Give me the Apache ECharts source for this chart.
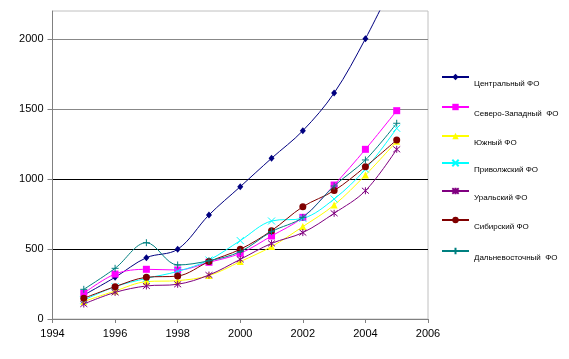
<!DOCTYPE html>
<html>
<head>
<meta charset="utf-8">
<script src="https://cdn.jsdelivr.net/npm/echarts@6/dist/echarts.min.js"></script>
<style>
html,body{margin:0;padding:0;background:#fff;}
#c{width:569px;height:359px;}
</style>
</head>
<body>
<div id="c"></div>
<script>
var years = [1995, 1996, 1997, 1998, 1999, 2000, 2001, 2002, 2003, 2004, 2005];
var seriesNames = ['Центральный ФО', 'Северо-Западный  ФО', 'Южный ФО', 'Приволжский ФО', 'Уральский ФО', 'Сибирский ФО', 'Дальневосточный  ФО'];
var central  = [171, 298, 438, 498, 743, 945, 1148, 1345, 1614, 2002, 2450];
var northWest = [183, 321, 355, 350, 405, 469, 593, 726, 957, 1212, 1488];
var south    = [125, 200, 267, 274, 310, 410, 517, 660, 814, 1028, 1270];
var volga    = [135, 231, 290, 340, 421, 560, 700, 719, 857, 1070, 1362];
var ural     = [107, 190, 236, 248, 314, 426, 540, 617, 755, 916, 1212];
var siberia  = [148, 231, 298, 307, 410, 498, 631, 802, 917, 1088, 1279];
var farEast  = [212, 362, 545, 386, 416, 481, 624, 726, 950, 1136, 1398];
var yTicks = [0, 500, 1000, 1500, 2000];
var xTicks = [1994, 1996, 1998, 2000, 2002, 2004, 2006];

var allData = [central, northWest, south, volga, ural, siberia, farEast];
var colors = ['#000080', '#FF00FF', '#FFFF00', '#00FFFF', '#800080', '#800000', '#008080'];
var symbols = [
  'diamond',
  'rect',
  'triangle',
  'path://M0,0L10,10M10,0L0,10',
  'path://M0,0L10,10M10,0L0,10M5,-1L5,11',
  'circle',
  'path://M5,0L5,10M0,5L10,5'
];
var sizes = [[6, 7], 7, 7, 7, 7, 7, 7];
var strokeOnly = [false, false, false, true, true, false, true];

var chart = echarts.init(document.getElementById('c'), null, {renderer: 'canvas'});
var font = 'Liberation Sans, Arial, sans-serif';

var series = seriesNames.map(function (name, i) {
  return {
    name: name,
    type: 'line',
    smooth: 0.35,
    clip: true,
    symbol: symbols[i],
    symbolSize: sizes[i],
    showSymbol: true,
    data: years.map(function (y, k) { return [y, allData[i][k]]; }),
    lineStyle: {color: colors[i], width: 1},
    itemStyle: strokeOnly[i]
      ? {color: 'rgba(0,0,0,0)', borderColor: colors[i], borderWidth: 1}
      : {color: colors[i], borderWidth: 0},
    emphasis: {disabled: true},
    z: 2 + i
  };
});

var legendLineY = [77, 107, 136, 163, 191, 220, 251];
var legends = seriesNames.map(function (name, i) {
  return {
    data: [name],
    orient: 'vertical',
    left: 441,
    top: legendLineY[i] - 11,
    itemWidth: 27,
    itemHeight: 8,
    itemGap: 0,
    padding: 0,
    selectedMode: false,
    formatter: function (n) { return '{t|' + n + '}'; },
    textStyle: {
      fontFamily: font, fontSize: 8, color: '#000',
      rich: {t: {fontFamily: font, fontSize: 8, color: '#000', padding: [14, 0, 0, 0], lineHeight: 10}}
    }
  };
});

chart.setOption({
  animation: false,
  backgroundColor: '#fff',
  grid: {left: 52.5, right: 141, top: 11, bottom: 40, show: true, borderColor: '#c0c0c0', borderWidth: 1, backgroundColor: 'transparent'},
  legend: legends,
  xAxis: {
    type: 'value',
    min: xTicks[0],
    max: xTicks[xTicks.length - 1],
    interval: 2,
    axisLine: {show: true, onZero: false, lineStyle: {color: '#808080', width: 1}},
    axisTick: {show: true, length: 4, lineStyle: {color: '#808080'}},
    axisLabel: {fontFamily: font, fontSize: 11, color: '#000', margin: 9, formatter: function (v) { return xTicks.indexOf(v) >= 0 ? String(v) : ''; }},
    splitLine: {show: false}
  },
  yAxis: {
    type: 'value',
    min: 0,
    max: 2200,
    interval: 500,
    axisLine: {show: true, lineStyle: {color: '#808080', width: 1}},
    axisTick: {show: true, length: 5, customValues: yTicks, lineStyle: {color: '#808080'}},
    axisLabel: {fontFamily: font, fontSize: 11, color: '#000', margin: 9, formatter: function (v) { return yTicks.indexOf(v) >= 0 ? String(v) : ''; }},
    splitLine: {show: true, lineStyle: {color: ['#000', '#000', '#000', '#888', '#888', '#c0c0c0'], width: 1}}
  },
  series: series
});
</script>
</body>
</html>
